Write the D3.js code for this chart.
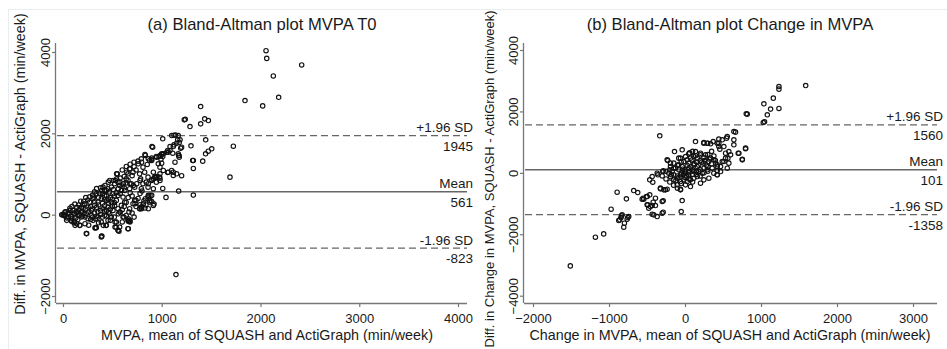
<!DOCTYPE html>
<html><head><meta charset="utf-8">
<script src="https://cdn.jsdelivr.net/npm/d3@7"></script>
<style>html,body{margin:0;padding:0;background:#fff;}svg{display:block;font-family:"Liberation Sans",Arial,sans-serif;}</style>
</head><body><div id="chart"></div>
<script>
// ---------- DATA ----------
const titleA = "(a) Bland-Altman plot MVPA T0";
const titleB = "(b) Bland-Altman plot Change in MVPA";
const xLabelA = "MVPA, mean of SQUASH and ActiGraph (min/week)";
const yLabelA = "Diff. in MVPA, SQUASH - ActiGraph (min/week)";
const xLabelB = "Change in MVPA, mean of SQUASH and ActiGraph (min/week)";
const yLabelB = "Diff. in Change in MVPA, SQUASH - ActiGraph (min/week)";
const xTicksA = [0, 1000, 2000, 3000, 4000];
const yTicksA = [-2000, 0, 2000, 4000];
const xTicksB = [-2000, -1000, 0, 1000, 2000, 3000];
const yTicksB = [-4000, -2000, 0, 2000, 4000];
const limitsA = {upper: 1945, mean: 561, lower: -823};
const limitsB = {upper: 1560, mean: 101, lower: -1358};

// [mean, difference] pairs, min/week
const pointsA = [
[2056,4032],[2063,3843],[2130,3411],[2417,3681],[2184,2886],[1843,2805],[2022,2675],[1394,2658],[1228,2331],[1238,2345],[1435,2356],[1472,2314],[1394,2233],[1286,2167],[1725,1684],[1445,1840],[1296,1693],[1506,1620],[1471,1561],[1444,1497],[1415,1316],[1313,1332],[1320,1136],[1691,923],
[1101,1946],[1124,1953],[1167,1946],[1140,1960],[1010,1865],[1185,1840],[1161,1840],[1151,1757],[1177,1774],[1201,1659],[1192,1635],[1117,1676],[1124,1718],[1084,1578],[1084,1676],[1060,1578],[1167,1497],[1111,1512],[1175,1456],[1171,1455],[1066,1537],[1000,1480],[999,1497],[901,1676],[908,1659],[1134,1291],[1177,1414],[1010,1431],[972,1431],[898,1350],[898,1390],[992,1365],[999,1266],
[1016,1087],[1060,1038],[1100,1087],[1117,964],[1151,1006],[1201,957],[982,1006],[949,940],[898,859],[932,908],[915,1045],[1010,645],[1171,579],[1043,425],[1320,481],[881,351],[898,326],[922,260],[881,474],[1144,-1472],
[240,-466],[392,-525],[330,-319],[567,-410],[537,-312],[661,-344],[678,-164],[661,-164],[617,-59],[527,-181],[435,-263],[223,-221],[122,-263],[172,-263],[37,-140],[87,-164],[20,-34],[-13,0],[739,351],[780,245],[729,270],[796,147],[830,162],[864,474],[915,883],[949,923],[982,898],
[945,1431],[834,1455],[793,1374],[760,1316],[719,1291],[878,1332],[853,1234],[810,1168],[641,1185],[675,1129],[709,1045],[658,1006],[550,1006],[776,1006],[827,1045],[861,923],[786,883],[929,923],[945,800],[473,842],[557,800],[523,761],[574,719],[405,677],[456,638],[422,596],[658,842],[692,761],[726,677],[675,638],[625,596],[810,761],[843,800],[793,638],[861,677],[861,432],[878,309],[793,186],[776,147],[726,351],[709,270],[675,147],[668,64],[658,-140],[675,-140],[658,-344],[574,64],[608,-59],[540,-181],[574,-304],[557,-385],[489,-59],[456,-140],[439,-263],[388,-181],[337,-319],[388,-550],[236,-466],[169,-263],[118,-181],[84,-140],[51,-59],[17,-17],[0,7],
[101,105],[152,64],[203,147],[253,186],[287,105],[321,228],[354,309],[388,393],[422,474],[456,393],[489,309],[523,228],[506,515],[439,596],[372,515],[304,393],[270,309],[219,270],[186,186],[135,64],[236,25],[287,-17],[354,64],[405,147],[456,186],[506,105],[540,351],[557,474],[591,596],[608,432],[625,309],[591,228],[557,147],[473,25],[422,-17],[354,-59],[304,-140],[253,-98],[186,-59],[152,-17],
[949,1414],[982,1455],[1016,1497],[1050,1537],[830,1480],[864,1374],[898,1332],[796,1291],[762,1251],[678,1129],[645,1045],[543,1006],[965,1251],[982,1168],[1066,1045],[1117,1045],[932,923],[975,923],[982,842],[898,842],[864,761],[780,842],[746,761],[712,719],[678,761],[1320,1332],[915,638],[898,474],[834,393],[796,186],[780,147],[864,147],[915,228],[813,270],[661,-98],[678,-181],[560,-385],[527,-304],[408,-263],[392,-533],[324,-329],[3,-17],[20,64],[71,105],[122,25],[172,-17],[139,-221],[223,-59],[307,432],[341,515],[392,596],[425,719],[459,800],[509,842],[543,883],[577,800],[611,761],
[60,30],[80,-40],[110,40],[130,-80],[160,120],[190,80],[210,20],[230,140],[260,60],[280,200],[300,140],[320,40],[340,180],[360,240],[380,100],[400,280],[420,220],[440,340],[460,280],[480,420],[500,380],[520,460],[540,540],[560,640],[580,520],[600,700],[620,660],[640,780],[300,480],[320,560],[340,640],[360,420],[380,660],[400,520],[420,380],[440,460],[470,560],[490,680],[510,620],[530,840],[580,900],[620,940],[600,1100],[640,880],[700,960],[740,1100],[680,1240],[720,1180],[270,440],[250,360],[230,420],[210,330],[200,250],[180,330],[160,240],[140,180],[120,260],[90,200],[70,160],[50,40],[40,-80],[30,70],[90,-90],[110,-200],[150,-120],[200,-40],[260,-260],[300,-60],[330,-100],[360,-200],[400,-60],[440,-30],[480,-140],[520,-60],[560,20],[600,-180],[640,-20],[700,40],[720,-60],[740,200],[760,400],[780,520],[800,580],[820,340],[840,240],[700,460],[680,540],[660,420],[640,300],[620,200],[600,120],[580,60],[520,300],[500,200],[480,140],[460,60],[440,110],[420,90],[380,0],[340,-40],[320,320],[280,-120]
];

const pointsB = [
[1588,2844],[1236,2811],[1236,2726],[1162,2433],[1038,2248],[1126,2075],[1083,1889],[1236,2097],[819,1912],[1030,1638],[1047,1661],[-332,1205],[643,1345],[665,1326],[556,1182],[445,1098],[643,1075],[643,912],[797,805],[709,641],[754,446],[138,1020],[248,967],[336,945],[-138,694],[-37,749],[50,619],[-235,423],[-191,316],[-82,479],[-366,-10],[-287,65],[424,75],
[138,694],[204,641],[248,987],[300,967],[371,1020],[445,967],[490,1075],[547,1130],[458,772],[534,641],[564,479],[490,368],[402,316],[336,479],[270,586],
[-227,401],[-292,42],[-358,-65],[-432,-120],[-464,-228],[-424,-303],[-675,-577],[-622,-642],[-771,-847],[-323,-521],[-257,-554],[-235,-531],[-287,-912],[-37,-902],
[-59,-531],[-103,-391],[-147,-228],[-191,-120],[-213,-10],[-169,42],[-125,153],[-82,98],[-59,-65],[-16,-228],[29,-283],[72,-228],[116,-173],[161,-120],[204,-336],[227,-10],[292,98],[358,153],[424,261],[468,205],[511,368],[379,-10],[424,-65],[314,-173],[248,-228],[182,42],[116,42],[50,-65],[7,-10],[-37,205],[-82,261],[-16,368],[50,316],[116,261],[161,205],[248,316],[314,368],[379,423],[161,479],[204,586],[116,531],[72,479],[29,423],[7,531],[-59,479],[-147,316],[-191,205],[7,-391],[72,-446],[-59,-283],[-103,-173],[-147,-65],[556,153],[577,316],[468,42],
[-1509,-3029],[-1179,-2094],[-1070,-1987],[-972,-1182],[-872,-1554],[-841,-1456],[-806,-1769],[-797,-1638],[-761,-1508],[-753,-1456],[-893,-629],[-564,-857],[-551,-824],[-498,-772],[-389,-824],[-498,-1042],[-477,-1150],[-455,-1098],[-432,-1065],[-419,-955],[-389,-1065],[-432,-1345],[-366,-1423],[-300,-935],[-287,-1280],[-323,-498],[-279,-554],[-50,-1260],[-59,-554],[-837,-1401],[-859,-1531],[-827,-1368],[-740,-1423],[-543,-857],[-507,-772],[-464,-717],[-490,-1042],[-411,-1368],[-300,-1313],
[806,1922],[797,782],[754,423],[700,641],[424,967],[445,857],[511,857],[577,694],[600,586],[534,479],[424,205],[424,-65],[292,967],
[-250,-200],[-200,-300],[-150,-400],[-100,-500],[-50,-350],[0,-150],[50,-200],[100,-300],[150,-50],[200,100],[250,150],[300,200],[350,300],[400,400],[-300,-100],[-250,50],[-200,100],[-150,150],[-100,250],[-50,350],[0,100],[50,150],[100,100],[150,350],[200,400],[250,500],[300,600],[350,700],[-100,-100],[-50,0],[0,50],[50,0],[100,-50],[150,50],[200,-100],[250,0],[300,50],[-120,-250],[-80,-150],[-20,-50],[20,-100],[60,50],[80,200],[120,300],[180,250],[220,350],[260,400],[280,250],[320,450],[380,550],[60,650],[100,700],[-180,-60],[-30,120],[30,240],[90,420],[140,560]
];

// ---------- DRAW ----------
const W = 947, H = 349;
const svg = d3.select("#chart").append("svg").attr("width", W).attr("height", H);
svg.append("rect").attr("x", 8.5).attr("y", 9.5).attr("width", W).attr("height", H)
   .attr("fill", "none").attr("stroke", "#e8eded").attr("stroke-width", 1);

const axisColor = "#777", textColor = "#1a1a1a";

function panel(cfg) {
  const x = d3.scaleLinear().domain(cfg.xDom).range(cfg.xRange);
  const y = d3.scaleLinear().domain(cfg.yDom).range(cfg.yRange);
  const g = svg.append("g");
  const [L, R, T, B] = cfg.box;

  // title
  g.append("text").attr("x", cfg.titleX).attr("y", 30).attr("text-anchor", "middle")
    .attr("font-size", 16.6).attr("fill", textColor).text(cfg.title);

  // axes
  const xAxis = d3.axisBottom(x).tickValues(cfg.xTicks).tickSize(4).tickSizeOuter(0).tickFormat(d3.format("d"));
  const ax = g.append("g").attr("transform", `translate(0,${B})`).call(xAxis);
  ax.select(".domain").attr("d", `M${L},0.5H${R}`).attr("stroke", axisColor).attr("stroke-width", 1.3);
  ax.selectAll(".tick line").attr("stroke", axisColor).attr("stroke-width", 1.2);
  ax.selectAll(".tick text").attr("font-size", 13).attr("fill", textColor).attr("dy", null).attr("y", 19.5)
    .attr("font-family", "Liberation Sans, Arial, sans-serif");

  const yAxis = d3.axisLeft(y).tickValues(cfg.yTicks).tickSize(4).tickSizeOuter(0).tickFormat(d3.format("d"));
  const ay = g.append("g").attr("transform", `translate(${L},0)`).call(yAxis);
  ay.select(".domain").attr("d", `M-0.5,${T}V${B}`).attr("stroke", axisColor).attr("stroke-width", 1.3);
  ay.selectAll(".tick line").attr("stroke", axisColor).attr("stroke-width", 1.2);
  ay.selectAll(".tick text").attr("font-size", 13).attr("fill", textColor)
    .attr("x", null).attr("dy", null).attr("text-anchor", "middle")
    .attr("font-family", "Liberation Sans, Arial, sans-serif")
    .attr("transform", "translate(-6,0) rotate(-90)");

  // axis titles
  g.append("text").attr("x", cfg.xTitleX).attr("y", 340).attr("text-anchor", "middle")
    .attr("font-size", 14.3).attr("fill", textColor).text(cfg.xLabel);
  g.append("text").attr("transform", `translate(${cfg.yTitleX},${cfg.yTitleY}) rotate(-90)`)
    .attr("text-anchor", "middle").attr("font-size", cfg.yTitleSize).attr("fill", textColor).text(cfg.yLabel);

  // reference lines
  const lim = cfg.limits;
  [["upper", "+1.96 SD", true], ["mean", "Mean", false], ["lower", "-1.96 SD", true]].forEach(([k, lab, dashed]) => {
    const yy = y(lim[k]);
    g.append("line").attr("x1", L + 1).attr("x2", R).attr("y1", yy).attr("y2", yy)
      .attr("stroke", "#666").attr("stroke-width", dashed ? 1.3 : 1.5)
      .attr("stroke-dasharray", dashed ? "7,4" : null);
    g.append("text").attr("x", cfg.labelX).attr("y", yy - 3.5).attr("text-anchor", "end")
      .attr("font-size", 13.5).attr("fill", textColor).text(lab);
    g.append("text").attr("x", cfg.labelX).attr("y", yy + 15).attr("text-anchor", "end")
      .attr("font-size", 13.5).attr("fill", textColor).text(String(lim[k]));
  });

  // points
  g.append("g").selectAll("circle").data(cfg.points).join("circle")
    .attr("cx", d => x(d[0])).attr("cy", d => y(d[1])).attr("r", 2.2)
    .attr("fill", "none").attr("stroke", "#111").attr("stroke-width", 1.15);
}

panel({
  title: titleA, titleX: 262, xLabel: xLabelA, yLabel: yLabelA, xTitleX: 267,
  yTitleX: 25, yTitleY: 164, yTitleSize: 14.3,
  xDom: [0, 4000], xRange: [63, 458], yDom: [-2000, 4000], yRange: [296, 52],
  box: [56, 467, 43, 303], xTicks: xTicksA, yTicks: yTicksA,
  limits: limitsA, labelX: 473, points: pointsA
});
panel({
  title: titleB, titleX: 730, xLabel: xLabelB, yLabel: yLabelB, xTitleX: 730,
  yTitleX: 494, yTitleY: 179, yTitleSize: 13,
  xDom: [-2000, 3000], xRange: [533, 913], yDom: [-4000, 4000], yRange: [295.7, 50],
  box: [524, 937, 43, 303], xTicks: xTicksB, yTicks: yTicksB,
  limits: limitsB, labelX: 943, points: pointsB
});
</script>
</body></html>
